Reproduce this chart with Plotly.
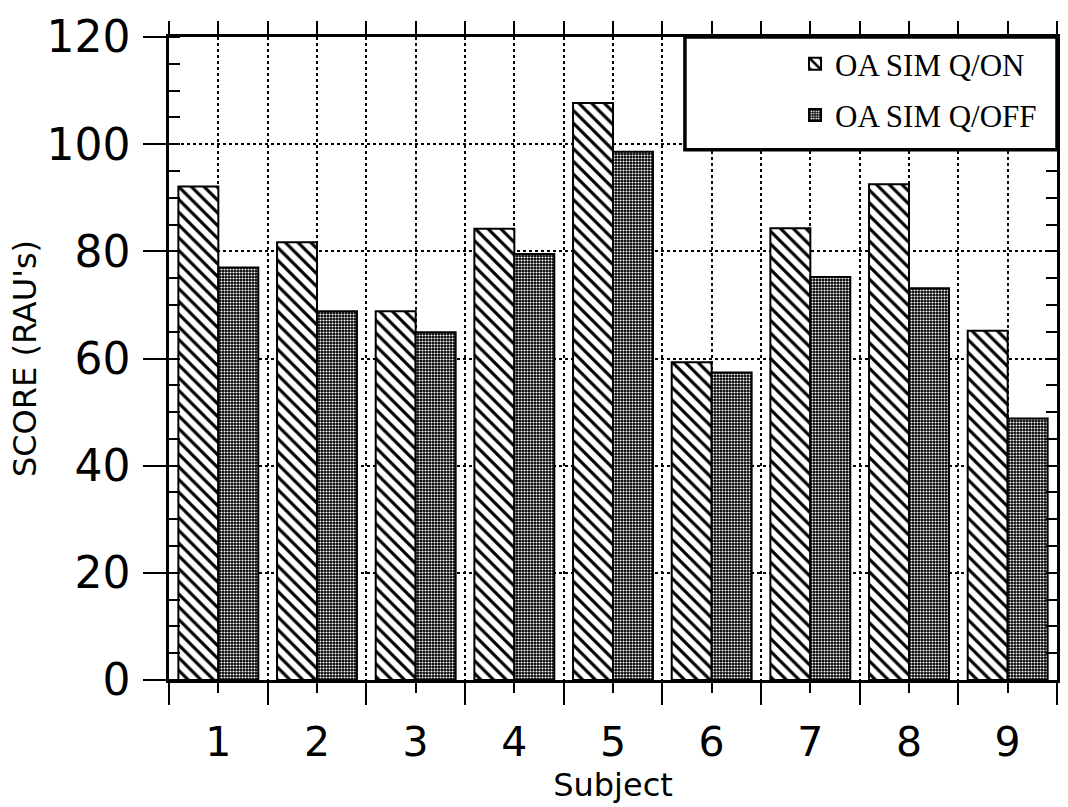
import plotly.graph_objects as go

subjects = [1, 2, 3, 4, 5, 6, 7, 8, 9]
q_on = [92.1, 81.7, 68.8, 84.2, 107.7, 59.3, 84.3, 92.5, 65.2]
q_off = [77.0, 68.8, 64.9, 79.5, 98.6, 57.4, 75.2, 73.1, 48.8]
names = ["OA SIM Q/ON", "OA SIM Q/OFF"]

SANS = "DejaVu Sans"
SERIF = "Liberation Serif"

fig = go.Figure()
fig.add_trace(go.Bar(
    x=subjects, y=q_on, name=names[0], legendgroup="a",
    marker=dict(color="white", line=dict(color="black", width=2),
                pattern=dict(shape="\\", size=9, solidity=0.35,
                             fgcolor="black", bgcolor="white", fillmode="replace")),
))
fig.add_trace(go.Bar(
    x=subjects, y=q_off, name=names[1], legendgroup="b",
    marker=dict(color="black", line=dict(color="black", width=2),
                pattern=dict(shape=".", size=3, solidity=0.4,
                             fgcolor="white", bgcolor="black", fillmode="replace")),
))
# empty helper traces so the mirrored axes are drawn
fig.add_trace(go.Scatter(x=[], y=[], xaxis="x2", yaxis="y", showlegend=False, hoverinfo="skip"))
fig.add_trace(go.Scatter(x=[], y=[], xaxis="x", yaxis="y2", showlegend=False, hoverinfo="skip"))

fig.update_layout(
    width=1068, height=807,
    margin=dict(l=169, r=11, t=33, b=124),
    paper_bgcolor="white", plot_bgcolor="white",
    barmode="group", bargap=0.19, bargroupgap=0,
    font=dict(family=SANS, color="black"),
    showlegend=True,
    legend=dict(
        x=0.705, y=1.0, xanchor="left", yanchor="top",
        bgcolor="rgba(0,0,0,0)", borderwidth=0,
        font=dict(family=SERIF, size=31, color="black"),
        tracegroupgap=8, traceorder="grouped",
    ),
    xaxis=dict(
        range=[0.5, 9.5], tickmode="linear", tick0=1, dtick=1,
        ticks="outside", ticklen=10, tickwidth=2, tickcolor="black",
        tickfont=dict(family=SANS, size=41), ticklabelstandoff=14,
        showgrid=True, gridcolor="black", gridwidth=1.5, griddash="dot",
        showline=True, linecolor="black", linewidth=2.5, zeroline=False,
        minor=dict(tickmode="linear", tick0=0.5, dtick=1, ticks="outside",
                   ticklen=22, tickwidth=2, tickcolor="black",
                   showgrid=True, gridcolor="black", gridwidth=1.5, griddash="dot"),
        title=dict(text="Subject", font=dict(family=SANS, size=32), standoff=8),
    ),
    xaxis2=dict(
        overlaying="x", side="top", range=[0.5, 9.5],
        tickmode="linear", tick0=0.5, dtick=0.5,
        ticks="outside", ticklen=13, tickwidth=2, tickcolor="black",
        showticklabels=False, showgrid=False, zeroline=False,
        showline=True, linecolor="black", linewidth=3,
    ),
    yaxis=dict(
        range=[0, 120], tickmode="linear", tick0=0, dtick=20,
        ticks="outside", ticklen=23, tickwidth=2, tickcolor="black",
        tickfont=dict(family=SANS, size=44), ticklabelstandoff=4,
        showgrid=True, gridcolor="black", gridwidth=1.5, griddash="dot",
        showline=True, linecolor="black", linewidth=2.5, zeroline=False,
        minor=dict(tickmode="linear", tick0=0, dtick=5, ticks="inside",
                   ticklen=11, tickwidth=2, tickcolor="black", showgrid=False),
        title=dict(text="SCORE (RAU's)", font=dict(family=SANS, size=32), standoff=1),
    ),
    yaxis2=dict(
        overlaying="y", side="right", range=[0, 120],
        tickmode="linear", tick0=0, dtick=5,
        ticks="inside", ticklen=11, tickwidth=2, tickcolor="black",
        showticklabels=False, showgrid=False, zeroline=False,
        showline=True, linecolor="black", linewidth=2.5,
    ),
    shapes=[dict(
        type="rect", xref="paper", yref="paper",
        x0=0.581, x1=1.0, y0=0.8246, y1=1.0,
        line=dict(color="black", width=3.5), fillcolor="white", layer="above",
    )],
)

fig.write_html("out.html")
